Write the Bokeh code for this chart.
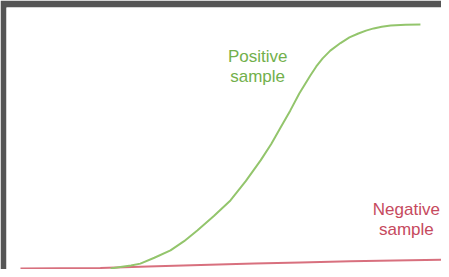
from bokeh.plotting import figure
from bokeh.models import Range1d
from bokeh.embed import file_html
from bokeh.resources import INLINE
from bokeh.core.properties import value

# Positive sample response curve (arbitrary units: time 0-100, signal 0-100)
pos_time = [21.2, 23.5, 26.0, 28.2, 31.5, 35.3, 38.5, 41.6, 45.5, 49.4, 53.0, 56.5, 59.0, 61.2,
            63.5, 65.6, 68.2, 69.6, 71.1, 72.9, 75.3, 77.4, 79.5, 81.3, 83.1, 85.0, 87.1, 90.6, 94.1]
pos_signal = [0.0, 0.6, 1.2, 2.0, 4.4, 7.4, 11.2, 15.6, 21.5, 27.9, 35.8, 44.3, 51.0, 57.8,
              64.8, 71.7, 79.1, 82.8, 86.1, 89.3, 92.4, 94.7, 96.3, 97.5, 98.4, 99.1, 99.6, 99.9, 100.0]

# Negative sample response curve
neg_time = [0.0, 18.8, 30.0, 42.4, 55.0, 65.9, 77.6, 88.0, 100.0]
neg_signal = [0.0, 0.2, 0.8, 1.4, 2.0, 2.5, 3.0, 3.3, 3.6]

labels = ["Positive\nsample", "Negative\nsample"]

GREEN_LINE = "#93c56c"
GREEN_TEXT = "#72b04c"
RED_LINE = "#d8707e"
RED_TEXT = "#c64a5e"
FRAME = "#555555"

p = figure(width=441, height=269, output_backend="svg", toolbar_location=None,
           x_range=Range1d(-3.29, 99.06), y_range=Range1d(-0.41, 106.97),
           min_border_left=6, min_border_top=7, min_border_right=0, min_border_bottom=0)
p.border_fill_color = FRAME
p.background_fill_color = "white"
p.outline_line_color = None
p.axis.visible = False
p.grid.visible = False

p.line(neg_time, neg_signal, line_color=RED_LINE, line_width=2)
p.line(pos_time, pos_signal, line_color=GREEN_LINE, line_width=2)

p.text(x=[55.8], y=[82.8], text=[labels[0]], text_color=GREEN_TEXT,
       text_font=value("Liberation Sans"), text_font_size="17px",
       text_align="center", text_baseline="middle", text_line_height=1.05)
p.text(x=[90.8], y=[20.1], text=[labels[1]], text_color=RED_TEXT,
       text_font=value("Liberation Sans"), text_font_size="17px",
       text_align="center", text_baseline="middle", text_line_height=1.05)

open("out.html", "w").write(file_html(p, INLINE))
